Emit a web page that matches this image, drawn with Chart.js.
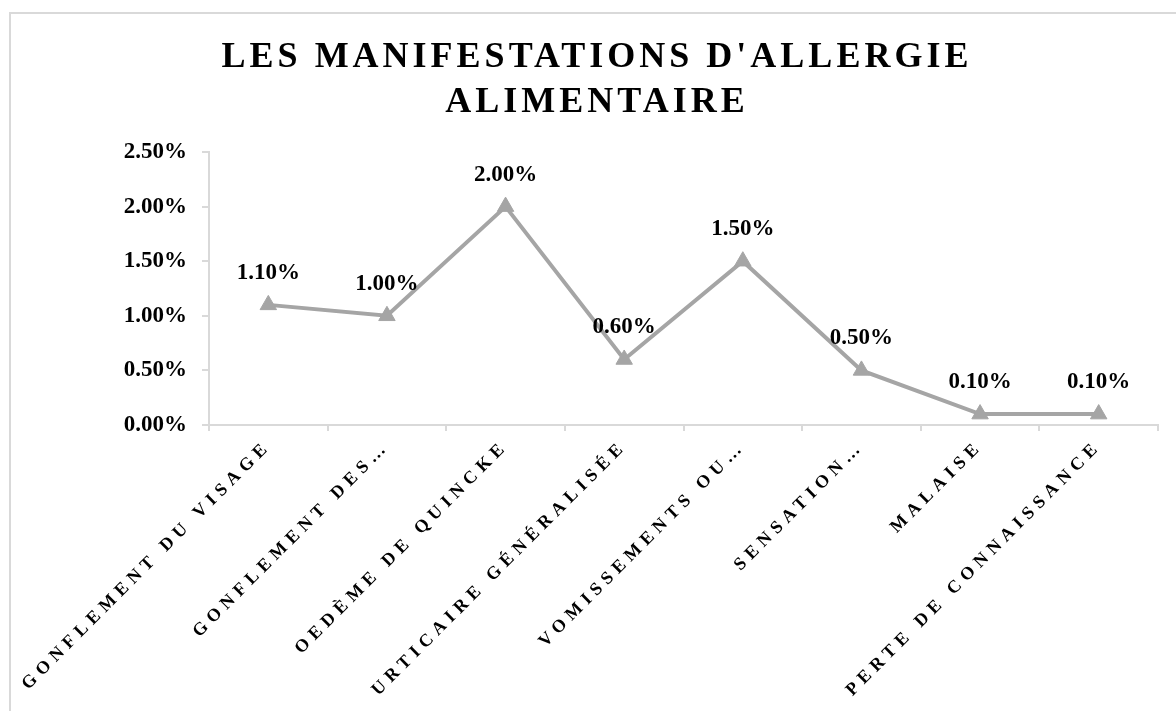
<!DOCTYPE html>
<html>
<head>
<meta charset="utf-8">
<script src="https://cdn.jsdelivr.net/npm/chart.js@4/dist/chart.umd.min.js"></script>
<style>
  html, body { margin: 0; padding: 0; background: #ffffff; }
  #wrap { position: relative; width: 1176px; height: 711px; }
  canvas { display: block; }
</style>
</head>
<body>
<div id="wrap"><canvas id="c" width="1176" height="711"></canvas></div>
<script>
const titleLines = ["LES MANIFESTATIONS D'ALLERGIE", "ALIMENTAIRE"];
const categories = [
  "GONFLEMENT DU VISAGE",
  "GONFLEMENT DES…",
  "OEDÈME DE QUINCKE",
  "URTICAIRE GÉNÉRALISÉE",
  "VOMISSEMENTS OU…",
  "SENSATION…",
  "MALAISE",
  "PERTE DE CONNAISSANCE"
];
const values = [1.1, 1.0, 2.0, 0.6, 1.5, 0.5, 0.1, 0.1];
const yTicks = [0, 0.5, 1.0, 1.5, 2.0, 2.5];

const SERIF = "'Liberation Serif', 'Times New Roman', serif";
const GRAY = '#a5a5a5';
const AXIS = '#d9d9d9';

const frame = {
  id: 'frame',
  beforeDraw(chart) {
    const ctx = chart.ctx;
    ctx.save();
    ctx.strokeStyle = AXIS;
    ctx.lineWidth = 2;
    ctx.strokeRect(10, 13, 3000, 3000);
    ctx.restore();
  }
};

function withSpacing(obj, method, spacing, dx) {
  if (!obj || obj['_sp_' + method]) return;
  const orig = obj[method];
  obj[method] = function (...args) {
    const ctx = this.ctx || args[0];
    ctx.save();
    ctx.letterSpacing = spacing;
    if (dx) ctx.translate(dx, 0);
    const r = orig.apply(this, args);
    ctx.restore();
    return r;
  };
  obj['_sp_' + method] = true;
}

const spacingPlugin = {
  id: 'spacing',
  beforeDraw(chart) {
    withSpacing(chart.scales.x, 'drawLabels', '5.5px', 0);
    if (chart.titleBlock) withSpacing(chart.titleBlock, 'draw', '4px', 18);
  }
};

const labelsPlugin = {
  id: 'pointLabels',
  afterDatasetsDraw(chart) {
    const ctx = chart.ctx;
    const meta = chart.getDatasetMeta(0);
    ctx.save();
    ctx.font = 'bold 23px ' + SERIF;
    ctx.fillStyle = '#000000';
    ctx.textAlign = 'center';
    ctx.textBaseline = 'middle';
    meta.data.forEach((pt, i) => {
      ctx.fillText(values[i].toFixed(2) + '%', pt.x, pt.y - 32);
    });
    ctx.restore();
  }
};

new Chart(document.getElementById('c'), {
  type: 'line',
  data: {
    labels: categories,
    datasets: [{
      data: values,
      borderColor: GRAY,
      backgroundColor: GRAY,
      borderWidth: 4,
      pointStyle: 'triangle',
      pointRadius: 9.5,
      pointHoverRadius: 9.5,
      pointBackgroundColor: GRAY,
      pointBorderColor: GRAY,
      pointBorderWidth: 1,
      tension: 0,
      fill: false
    }]
  },
  options: {
    responsive: false,
    animation: false,
    events: [],
    layout: { padding: { left: 0, right: 18, top: 0, bottom: 0 } },
    plugins: {
      legend: { display: false },
      tooltip: { enabled: false },
      title: {
        display: true,
        text: titleLines,
        color: '#000000',
        font: { family: SERIF, size: 36, weight: 'bold', lineHeight: 1.25 },
        padding: { top: 35, bottom: 27 }
      }
    },
    scales: {
      x: {
        type: 'category',
        offset: true,
        grid: { display: true, offset: true, drawOnChartArea: false, drawTicks: true, tickLength: 6, color: AXIS, lineWidth: 2 },
        border: { display: true, color: AXIS, width: 2 },
        ticks: {
          autoSkip: false,
          minRotation: 45,
          maxRotation: 45,
          padding: 5,
          color: '#000000',
          font: { family: SERIF, size: 18, weight: 'bold' }
        },
        afterFit(scale) { scale.height = 286; }
      },
      y: {
        min: 0,
        max: 2.5,
        afterBuildTicks(scale) { scale.ticks = yTicks.map(v => ({ value: v })); },
        grid: { display: true, drawOnChartArea: false, drawTicks: true, tickLength: 7, color: AXIS, lineWidth: 2 },
        border: { display: true, color: AXIS, width: 2 },
        ticks: {
          padding: 15,
          color: '#000000',
          font: { family: SERIF, size: 23, weight: 'bold' },
          callback: (v) => Number(v).toFixed(2) + '%'
        },
        afterFit(scale) { scale.width = 209; }
      }
    }
  },
  plugins: [frame, spacingPlugin, labelsPlugin]
});
</script>
</body>
</html>
